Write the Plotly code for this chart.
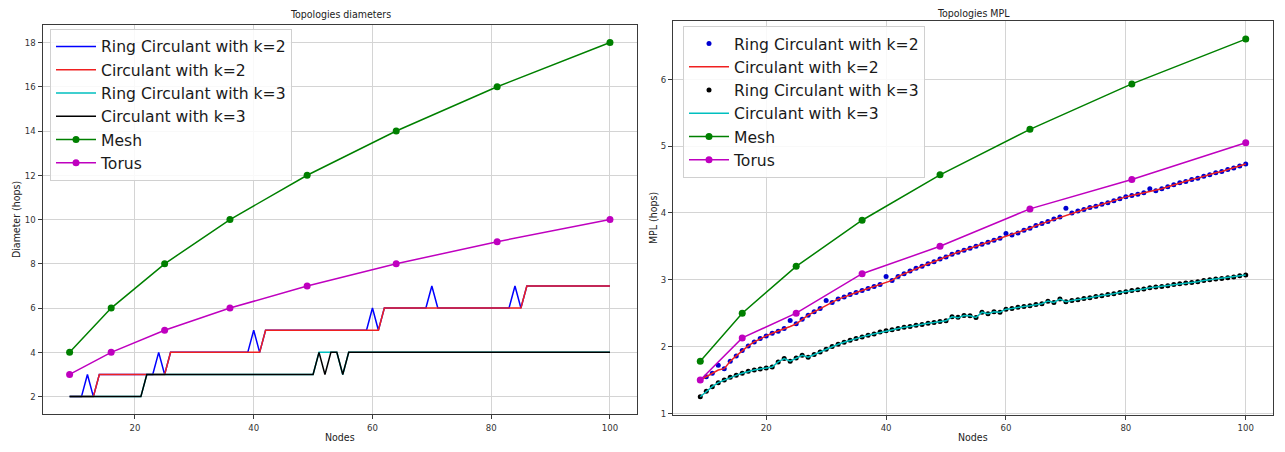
import plotly.graph_objects as go

# ---------------- data ----------------
nodes = list(range(9, 101))

ring_k2_diam = [2, 2, 2, 3, 2, 3, 3, 3, 3, 3, 3,
                3, 3, 3, 3, 4, 3, 4, 4, 4, 4,
                4, 4, 4, 4, 4, 4, 4, 4, 4, 4,
                5, 4, 5, 5, 5, 5, 5, 5, 5, 5,
                5, 5, 5, 5, 5, 5, 5, 5, 5, 5,
                6, 5, 6, 6, 6, 6, 6, 6, 6, 6,
                7, 6, 6, 6, 6, 6, 6, 6, 6, 6,
                6, 6, 6, 6, 7, 6, 7, 7, 7, 7,
                7, 7, 7, 7, 7, 7, 7, 7, 7, 7, 7]
circ_k2_diam = [2, 2, 2, 2, 2, 3, 3, 3, 3, 3, 3,
                3, 3, 3, 3, 3, 3, 4, 4, 4, 4,
                4, 4, 4, 4, 4, 4, 4, 4, 4, 4,
                4, 4, 5, 5, 5, 5, 5, 5, 5, 5,
                5, 5, 5, 5, 5, 5, 5, 5, 5, 5,
                5, 5, 6, 6, 6, 6, 6, 6, 6, 6,
                6, 6, 6, 6, 6, 6, 6, 6, 6, 6,
                6, 6, 6, 6, 6, 6, 7, 7, 7, 7,
                7, 7, 7, 7, 7, 7, 7, 7, 7, 7, 7]
ring_k3_diam = [2, 2, 2, 2, 2, 2, 2, 2, 2, 2, 2,
                2, 2, 3, 3, 3, 3, 3, 3, 3, 3,
                3, 3, 3, 3, 3, 3, 3, 3, 3, 3,
                3, 3, 3, 3, 3, 3, 3, 3, 3, 3,
                3, 4, 4, 4, 4, 3, 4, 4, 4, 4,
                4, 4, 4, 4, 4, 4, 4, 4, 4, 4,
                4, 4, 4, 4, 4, 4, 4, 4, 4, 4,
                4, 4, 4, 4, 4, 4, 4, 4, 4, 4,
                4, 4, 4, 4, 4, 4, 4, 4, 4, 4, 4]
circ_k3_diam = [2, 2, 2, 2, 2, 2, 2, 2, 2, 2, 2,
                2, 2, 3, 3, 3, 3, 3, 3, 3, 3,
                3, 3, 3, 3, 3, 3, 3, 3, 3, 3,
                3, 3, 3, 3, 3, 3, 3, 3, 3, 3,
                3, 4, 3, 4, 4, 3, 4, 4, 4, 4,
                4, 4, 4, 4, 4, 4, 4, 4, 4, 4,
                4, 4, 4, 4, 4, 4, 4, 4, 4, 4,
                4, 4, 4, 4, 4, 4, 4, 4, 4, 4,
                4, 4, 4, 4, 4, 4, 4, 4, 4, 4, 4]

grid_nodes = [9, 16, 25, 36, 49, 64, 81, 100]
mesh_diam = [4, 6, 8, 10, 12, 14, 16, 18]
torus_diam = [3, 4, 5, 6, 7, 8, 9, 10]

circ_k2_mpl = [1.50, 1.55, 1.60, 1.65, 1.67, 1.78, 1.86, 1.94, 2.01, 2.07, 2.12,
               2.16, 2.20, 2.23, 2.27, 2.30, 2.34, 2.41, 2.47, 2.52, 2.57,
               2.62, 2.66, 2.71, 2.74, 2.78, 2.81, 2.84, 2.87, 2.90, 2.93,
               2.97, 2.99, 3.05, 3.09, 3.13, 3.17, 3.20, 3.24, 3.27, 3.31,
               3.34, 3.38, 3.41, 3.44, 3.47, 3.50, 3.53, 3.56, 3.59, 3.62,
               3.64, 3.67, 3.70, 3.74, 3.77, 3.81, 3.84, 3.87, 3.91, 3.94,
               3.97, 4.00, 4.03, 4.05, 4.08, 4.10, 4.13, 4.15, 4.18, 4.21,
               4.24, 4.26, 4.28, 4.30, 4.31, 4.33, 4.36, 4.39, 4.42, 4.45,
               4.47, 4.50, 4.52, 4.55, 4.57, 4.60, 4.62, 4.65, 4.67, 4.70, 4.73]
ring_k2_mpl = [1.50, 1.55, 1.60, 1.72, 1.67, 1.78, 1.86, 1.94, 2.01, 2.07, 2.12,
               2.16, 2.20, 2.23, 2.27, 2.39, 2.34, 2.41, 2.47, 2.52, 2.57,
               2.69, 2.66, 2.71, 2.74, 2.78, 2.81, 2.84, 2.87, 2.90, 2.93,
               3.05, 2.99, 3.05, 3.09, 3.13, 3.17, 3.20, 3.24, 3.27, 3.31,
               3.34, 3.38, 3.41, 3.44, 3.47, 3.50, 3.53, 3.56, 3.59, 3.62,
               3.69, 3.67, 3.70, 3.74, 3.77, 3.81, 3.84, 3.87, 3.91, 3.94,
               4.07, 4.00, 4.03, 4.05, 4.08, 4.10, 4.13, 4.15, 4.18, 4.21,
               4.24, 4.26, 4.28, 4.30, 4.36, 4.33, 4.36, 4.39, 4.42, 4.45,
               4.47, 4.50, 4.52, 4.55, 4.57, 4.60, 4.62, 4.65, 4.67, 4.70, 4.73]
circ_k3_mpl = [1.25, 1.33, 1.40, 1.46, 1.50, 1.54, 1.57, 1.60, 1.63, 1.65, 1.665,
               1.68, 1.695, 1.77, 1.82, 1.78, 1.83, 1.87, 1.84, 1.88, 1.92,
               1.96, 2.00, 2.035, 2.065, 2.095, 2.12, 2.145, 2.17, 2.19, 2.22,
               2.235, 2.25, 2.27, 2.29, 2.30, 2.32, 2.33, 2.35, 2.36, 2.375,
               2.385, 2.445, 2.43, 2.465, 2.46, 2.435, 2.515, 2.49, 2.52, 2.515,
               2.56, 2.57, 2.59, 2.60, 2.61, 2.63, 2.64, 2.68, 2.66, 2.71,
               2.67, 2.69, 2.70, 2.72, 2.73, 2.75, 2.76, 2.78, 2.79, 2.81,
               2.82, 2.84, 2.85, 2.86, 2.88, 2.89, 2.90, 2.91, 2.93, 2.94,
               2.95, 2.96, 2.97, 2.99, 3.00, 3.01, 3.02, 3.03, 3.04, 3.06, 3.07]
ring_k3_mpl = [1.25, 1.33, 1.40, 1.46, 1.50, 1.54, 1.57, 1.60, 1.63, 1.65, 1.665,
               1.68, 1.695, 1.77, 1.82, 1.78, 1.83, 1.87, 1.84, 1.88, 1.92,
               1.96, 2.00, 2.035, 2.065, 2.095, 2.12, 2.145, 2.17, 2.19, 2.22,
               2.235, 2.25, 2.27, 2.29, 2.30, 2.32, 2.33, 2.35, 2.36, 2.375,
               2.385, 2.445, 2.44, 2.465, 2.46, 2.435, 2.515, 2.49, 2.52, 2.515,
               2.56, 2.57, 2.59, 2.60, 2.61, 2.63, 2.64, 2.68, 2.66, 2.71,
               2.67, 2.69, 2.70, 2.72, 2.73, 2.75, 2.76, 2.78, 2.79, 2.81,
               2.82, 2.84, 2.85, 2.86, 2.88, 2.89, 2.90, 2.91, 2.93, 2.94,
               2.95, 2.96, 2.97, 2.99, 3.00, 3.01, 3.02, 3.03, 3.04, 3.06, 3.07]
mesh_mpl = [1.78, 2.50, 3.20, 3.89, 4.57, 5.25, 5.93, 6.60]
torus_mpl = [1.50, 2.13, 2.50, 3.09, 3.50, 4.06, 4.50, 5.05]

names = ["Ring Circulant with k=2", "Circulant with k=2",
         "Ring Circulant with k=3", "Circulant with k=3", "Mesh", "Torus"]
xticks = [20, 40, 60, 80, 100]
left_yticks = [2, 4, 6, 8, 10, 12, 14, 16, 18]
right_yticks = [1, 2, 3, 4, 5, 6]

# ---------------- style ----------------
BLUE, RED, CYAN, BLACK = "#0000ff", "#f02020", "#00bfbf", "#000000"
DOTBLUE = "#0000d0"
GREEN, MAGENTA = "#008000", "#bf00bf"
LW = 1.5
W, H = 1285, 452

fig = go.Figure()

# left panel
fig.add_trace(go.Scatter(x=nodes, y=ring_k2_diam, mode="lines", name=names[0],
                         line=dict(color=BLUE, width=LW), xaxis="x", yaxis="y", legend="legend"))
fig.add_trace(go.Scatter(x=nodes, y=circ_k2_diam, mode="lines", name=names[1],
                         line=dict(color=RED, width=LW), xaxis="x", yaxis="y", legend="legend"))
fig.add_trace(go.Scatter(x=nodes, y=ring_k3_diam, mode="lines", name=names[2],
                         line=dict(color=CYAN, width=LW), xaxis="x", yaxis="y", legend="legend"))
fig.add_trace(go.Scatter(x=nodes, y=circ_k3_diam, mode="lines", name=names[3],
                         line=dict(color=BLACK, width=LW), xaxis="x", yaxis="y", legend="legend"))
fig.add_trace(go.Scatter(x=grid_nodes, y=mesh_diam, mode="lines+markers", name=names[4],
                         line=dict(color=GREEN, width=LW), marker=dict(color=GREEN, size=7),
                         xaxis="x", yaxis="y", legend="legend"))
fig.add_trace(go.Scatter(x=grid_nodes, y=torus_diam, mode="lines+markers", name=names[5],
                         line=dict(color=MAGENTA, width=LW), marker=dict(color=MAGENTA, size=7),
                         xaxis="x", yaxis="y", legend="legend"))

# right panel
fig.add_trace(go.Scatter(x=nodes, y=ring_k2_mpl, mode="markers", name=names[0],
                         marker=dict(color=DOTBLUE, size=5), xaxis="x2", yaxis="y2", legend="legend2"))
fig.add_trace(go.Scatter(x=nodes, y=circ_k2_mpl, mode="lines", name=names[1],
                         line=dict(color=RED, width=LW), xaxis="x2", yaxis="y2", legend="legend2"))
fig.add_trace(go.Scatter(x=nodes, y=ring_k3_mpl, mode="markers", name=names[2],
                         marker=dict(color=BLACK, size=5), xaxis="x2", yaxis="y2", legend="legend2"))
fig.add_trace(go.Scatter(x=nodes, y=circ_k3_mpl, mode="lines", name=names[3],
                         line=dict(color=CYAN, width=LW), xaxis="x2", yaxis="y2", legend="legend2"))
fig.add_trace(go.Scatter(x=grid_nodes, y=mesh_mpl, mode="lines+markers", name=names[4],
                         line=dict(color=GREEN, width=LW), marker=dict(color=GREEN, size=7),
                         xaxis="x2", yaxis="y2", legend="legend2"))
fig.add_trace(go.Scatter(x=grid_nodes, y=torus_mpl, mode="lines+markers", name=names[5],
                         line=dict(color=MAGENTA, width=LW), marker=dict(color=MAGENTA, size=7),
                         xaxis="x2", yaxis="y2", legend="legend2"))

TICKFONT = dict(family="DejaVu Sans Condensed", size=9.5, color="#333333")
axis_common = dict(showline=True, linecolor="#3a3a3a", linewidth=1, mirror=True,
                   ticks="outside", ticklen=4, tickcolor="#3a3a3a", tickwidth=1,
                   showgrid=True, gridcolor="#d4d4d4", gridwidth=1, zeroline=False,
                   tickfont=TICKFONT)

legend_common = dict(font=dict(family="DejaVu Sans", size=15.6, color="#1a1a1a"),
                     bgcolor="rgba(255,255,255,0.85)", bordercolor="#d0d0d0", borderwidth=1,
                     xanchor="left", yanchor="top", itemwidth=40, tracegroupgap=0)

fig.update_layout(
    width=W, height=H,
    margin=dict(l=0, r=0, t=0, b=0),
    paper_bgcolor="white", plot_bgcolor="white",
    xaxis=dict(domain=[42.6 / W, 637 / W], range=[4.45, 104.55], tickvals=xticks, anchor="y", **axis_common),
    yaxis=dict(domain=[1 - 418 / H, 1 - 25 / H], range=[1.2, 18.8], tickvals=left_yticks, anchor="x", **axis_common),
    xaxis2=dict(domain=[673 / W, 1273 / W], range=[4.45, 104.55], tickvals=xticks, anchor="y2", **axis_common),
    yaxis2=dict(domain=[1 - 418.3 / H, 1 - 21.4 / H], range=[0.9825, 6.8675], tickvals=right_yticks, anchor="x2", **axis_common),
    legend=dict(x=50 / W, y=1 - 29 / H, **legend_common),
    legend2=dict(x=683 / W, y=1 - 26 / H, **legend_common),
    showlegend=True,
)

LABELFONT = dict(family="DejaVu Sans Condensed", size=10.5, color="#222222")
annots = [
    dict(text="Topologies diameters", x=340 / W, y=1 - 14 / H, font=LABELFONT),
    dict(text="Topologies MPL", x=973 / W, y=1 - 13 / H, font=LABELFONT),
    dict(text="Nodes", x=340 / W, y=1 - 441 / H, font=LABELFONT),
    dict(text="Nodes", x=973 / W, y=1 - 441 / H, font=LABELFONT),
    dict(text="Diameter (hops)", x=16 / W, y=1 - 222 / H, textangle=-90, font=LABELFONT),
    dict(text="MPL (hops)", x=653 / W, y=1 - 220 / H, textangle=-90, font=LABELFONT),
]
for a in annots:
    fig.add_annotation(xref="paper", yref="paper", showarrow=False,
                       xanchor="center", yanchor="middle", **a)

fig.write_html("out.html")
